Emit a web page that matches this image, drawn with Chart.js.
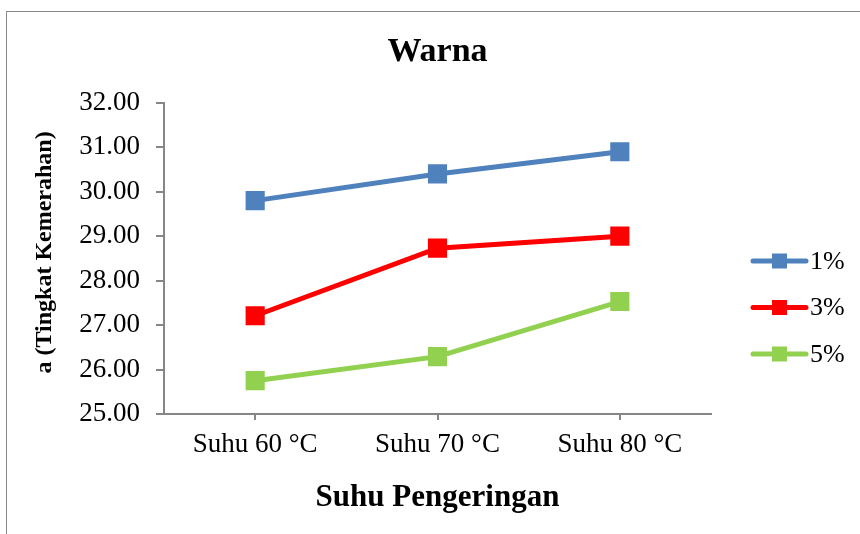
<!DOCTYPE html>
<html>
<head>
<meta charset="utf-8">
<title>Warna</title>
<script src="https://cdn.jsdelivr.net/npm/chart.js@4/dist/chart.umd.min.js"></script>
<style>
  html, body { margin: 0; padding: 0; background: #fff; overflow: hidden; }
  #frame { position: absolute; left: 6px; top: 11px; width: 1000px; height: 1000px; border: 1px solid #8a8a8a; }
  #chart { position: absolute; left: 0; top: 0; }
</style>
</head>
<body>
<div id="frame"></div>
<canvas id="chart" width="860" height="534"></canvas>
<script>
  // ── Data ──────────────────────────────────────────────────────────────
  const categories = ['Suhu 60 °C', 'Suhu 70 °C', 'Suhu 80 °C'];
  const seriesNames = ['1%', '3%', '5%'];
  const series1 = [29.80, 30.40, 30.90];
  const series3 = [27.21, 28.73, 29.00];
  const series5 = [25.75, 26.29, 27.53];
  const seriesColors = ['#4F81BD', '#FF0000', '#92D050'];
  const yTicks = [25, 26, 27, 28, 29, 30, 31, 32];

  const SERIF = '"Liberation Serif", "Times New Roman", Times, serif';
  const AXIS_GREY = '#868686';

  Chart.defaults.font.family = SERIF;
  Chart.defaults.color = '#000';

  /**
   * Draws the legend at the right (line sample with a square marker in the middle),
   * using the dataset colours and labels.
   */
  const sideLegend = {
    id: 'sideLegend',
    afterDraw(chart) {
      const { ctx } = chart;
      const rowsY = [261, 307.5, 354];
      chart.data.datasets.forEach((ds, i) => {
        const y = rowsY[i];
        ctx.save();
        ctx.strokeStyle = ds.borderColor;
        ctx.lineWidth = 5;
        ctx.lineCap = 'round';
        ctx.beginPath();
        ctx.moveTo(753, y);
        ctx.lineTo(806, y);
        ctx.stroke();
        ctx.fillStyle = ds.borderColor;
        ctx.fillRect(772, y - 7.5, 15, 15);
        ctx.fillStyle = '#000';
        ctx.font = `26px ${SERIF}`;
        ctx.textBaseline = 'middle';
        ctx.textAlign = 'left';
        ctx.fillText(ds.label, 810, y + 1);
        ctx.restore();
      });
    },
  };

  const values = [series1, series3, series5];

  new Chart(document.getElementById('chart').getContext('2d'), {
    type: 'line',
    data: {
      labels: categories,
      datasets: seriesNames.map((name, i) => ({
        label: name,
        data: values[i],
        borderColor: seriesColors[i],
        backgroundColor: seriesColors[i],
        borderWidth: 5,
        pointStyle: 'rect',
        pointRadius: 10,
        pointHoverRadius: 10,
        tension: 0,
      })),
    },
    options: {
      responsive: false,
      animation: false,
      devicePixelRatio: 1,
      layout: { padding: { left: 0, right: 149, top: 0, bottom: 0 } },
      plugins: {
        legend: { display: false },
        tooltip: { enabled: false },
        title: {
          display: true,
          text: 'Warna',
          fullSize: false,
          font: { size: 34, weight: 'bold', family: SERIF },
          color: '#000',
          padding: { top: 32, bottom: 30 },
        },
      },
      scales: {
        x: {
          type: 'category',
          offset: true,
          afterFit: (scale) => { scale.height = 120; },
          grid: {
            display: true,
            drawOnChartArea: false,
            drawTicks: true,
            tickLength: 6,
            color: AXIS_GREY,
            lineWidth: 2,
          },
          border: { display: true, color: AXIS_GREY, width: 2 },
          ticks: {
            font: { size: 27, family: SERIF },
            color: '#000',
            padding: 9,
            maxRotation: 0,
          },
          title: {
            display: true,
            text: 'Suhu Pengeringan',
            font: { size: 31, weight: 'bold', family: SERIF },
            color: '#000',
            padding: { top: 0, bottom: 17 },
          },
        },
        y: {
          min: 25,
          max: 32,
          afterFit: (scale) => { scale.width = 164; },
          afterBuildTicks: (scale) => { scale.ticks = yTicks.map((v) => ({ value: v })); },
          grid: {
            display: true,
            drawOnChartArea: false,
            drawTicks: true,
            tickLength: 8,
            color: AXIS_GREY,
            lineWidth: 2,
          },
          border: { display: true, color: AXIS_GREY, width: 2 },
          ticks: {
            font: { size: 27, family: SERIF },
            color: '#000',
            padding: 16,
            callback: (v) => Number(v).toFixed(2),
          },
          title: {
            display: true,
            // two leading spaces nudge the rotated title slightly upwards, as in the reference
            text: '  a (Tingkat Kemerahan)',
            font: { size: 24, weight: 'bold', family: SERIF },
            color: '#000',
            padding: { top: 30, bottom: 0 },
          },
        },
      },
    },
    plugins: [sideLegend],
  });
</script>
</body>
</html>
